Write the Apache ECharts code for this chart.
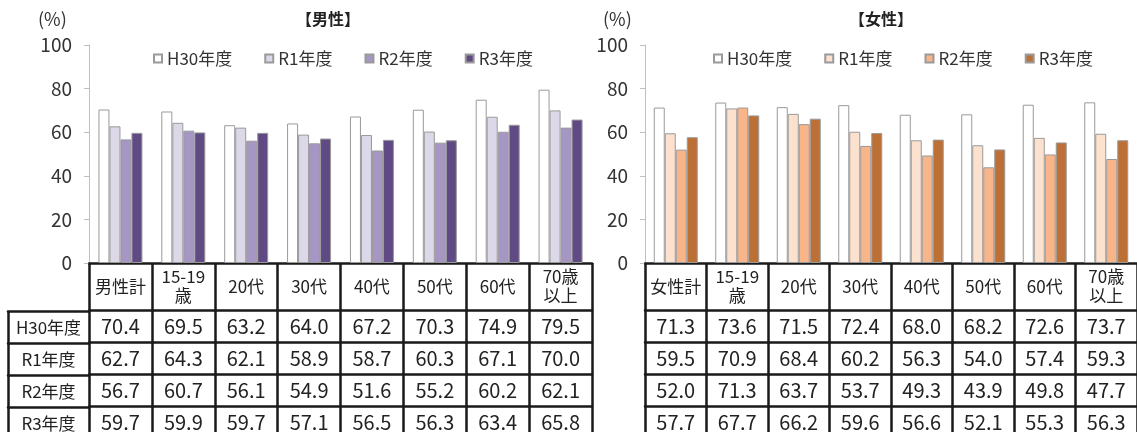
<!DOCTYPE html>
<html>
<head>
<meta charset="utf-8">
<script src="https://cdn.jsdelivr.net/npm/echarts@6/dist/echarts.min.js"></script>
<style>
html,body{margin:0;padding:0;background:#fff}
#main{width:1137px;height:432px}
</style>
</head>
<body>
<div id="main"></div>
<script>
var years=['H30年度','R1年度','R2年度','R3年度'];
var maleCats=['男性計','15-19\n歳','20代','30代','40代','50代','60代','70歳\n以上'];
var femaleCats=['女性計','15-19\n歳','20代','30代','40代','50代','60代','70歳\n以上'];

var maleH30=[70.4,69.5,63.2,64.0,67.2,70.3,74.9,79.5];
var maleR1=[62.7,64.3,62.1,58.9,58.7,60.3,67.1,70.0];
var maleR2=[56.7,60.7,56.1,54.9,51.6,55.2,60.2,62.1];
var maleR3=[59.7,59.9,59.7,57.1,56.5,56.3,63.4,65.8];

var femaleH30=[71.3,73.6,71.5,72.4,68.0,68.2,72.6,73.7];
var femaleR1=[59.5,70.9,68.4,60.2,56.3,54.0,57.4,59.3];
var femaleR2=[52.0,71.3,63.7,53.7,49.3,43.9,49.8,47.7];
var femaleR3=[57.7,67.7,66.2,59.6,56.6,52.1,55.3,56.3];

var maleColors=['#ffffff','#ddd8e8','#a596c4','#604a84'];
var femaleColors=['#ffffff','#fde1cf','#f8b58a','#bd7036'];

var FONT='"Noto Sans CJK JP", sans-serif';
var LINE={color:'#1a1a1a',width:2.5};
var HEAD_H=47, ROW_H=32;

// header row + one axis per table row, stacked under the bars
function tableAxes(grid,cats,rows){
    var axes=[{
        type:'category',gridIndex:grid,data:cats,position:'bottom',
        axisLine:{onZero:false,lineStyle:LINE},
        axisTick:{show:true,interval:0,length:HEAD_H,lineStyle:LINE},
        axisLabel:{interval:0,margin:HEAD_H/2,verticalAlign:'middle',fontSize:17,lineHeight:19,color:'#222',fontFamily:FONT}
    }];
    rows.forEach(function(row,r){
        axes.push({
            type:'category',gridIndex:grid,data:cats,position:'bottom',offset:HEAD_H+r*ROW_H,
            axisLine:{onZero:false,lineStyle:LINE},
            axisTick:{show:true,interval:0,length:ROW_H,lineStyle:LINE},
            axisLabel:{interval:0,margin:ROW_H/2,verticalAlign:'middle',fontSize:20,color:'#222',fontFamily:FONT,
                formatter:function(v,i){return row[i].toFixed(1);}}
        });
    });
    return axes;
}

// left column with the year names (male table only)
function labelAxes(grid){
    return years.map(function(y,r){
        return {
            type:'category',gridIndex:grid,data:[y],position:'bottom',offset:HEAD_H+r*ROW_H,
            axisLine:{onZero:false,lineStyle:LINE},
            axisTick:{show:true,interval:0,length:ROW_H,lineStyle:LINE},
            axisLabel:{interval:0,margin:ROW_H/2,verticalAlign:'middle',fontSize:17,color:'#222',fontFamily:FONT}
        };
    });
}

function valueAxis(grid){
    return {
        type:'value',gridIndex:grid,min:0,max:100,interval:20,
        axisLine:{show:true,lineStyle:{color:'#bfbfbf',width:1}},
        axisTick:{show:true,length:5,lineStyle:{color:'#bfbfbf'}},
        axisLabel:{margin:17,fontSize:19,color:'#333',fontFamily:FONT},
        splitLine:{show:false}
    };
}

function bars(names,data,colors,xi,yi){
    return names.map(function(n,k){
        return {
            name:n,type:'bar',xAxisIndex:xi,yAxisIndex:yi,data:data[k],
            barWidth:11,barGap:'0%',silent:true,
            itemStyle:{color:colors[k],borderColor:'#9a9a9a',borderWidth:1}
        };
    });
}

var femaleNames=years.map(function(y){return '女性'+y;});
var maleRows=[maleH30,maleR1,maleR2,maleR3];
var femaleRows=[femaleH30,femaleR1,femaleR2,femaleR3];

var xAxes=[].concat(tableAxes(0,maleCats,maleRows),labelAxes(1),tableAxes(2,femaleCats,femaleRows));
var yHidden={type:'value',gridIndex:1,show:false,min:0,max:100};

var legendBase={icon:'rect',itemWidth:8,itemHeight:8,itemGap:32,top:45,
    textStyle:{fontSize:17,color:'#333',fontFamily:FONT}};

var myChart=echarts.init(document.getElementById('main'));
myChart.setOption({
    animation:false,
    textStyle:{fontFamily:FONT},
    title:[
        {text:'【男性】',left:296,top:11,padding:0,textStyle:{fontSize:16,fontWeight:'bold',color:'#222',fontFamily:FONT}},
        {text:'(%)',left:38,top:10,padding:0,textStyle:{fontSize:18,fontWeight:'normal',color:'#333',fontFamily:FONT}},
        {text:'【女性】',left:849,top:11,padding:0,textStyle:{fontSize:16,fontWeight:'bold',color:'#222',fontFamily:FONT}},
        {text:'(%)',left:603,top:10,padding:0,textStyle:{fontSize:18,fontWeight:'normal',color:'#333',fontFamily:FONT}}
    ],
    legend:[
        Object.assign({},legendBase,{data:years,left:148}),
        Object.assign({},legendBase,{data:femaleNames,left:708,formatter:function(n){return n.replace('女性','');}})
    ],
    grid:[
        {left:89,top:45,width:503,height:220},
        {left:8,top:45,width:81,height:220},
        {left:645,top:45,width:503,height:220}
    ],
    xAxis:xAxes,
    yAxis:[valueAxis(0),yHidden,valueAxis(2)],
    series:[].concat(
        bars(years,maleRows,maleColors,0,0),
        bars(femaleNames,femaleRows,femaleColors,9,2)
    )
});
</script>
</body>
</html>
